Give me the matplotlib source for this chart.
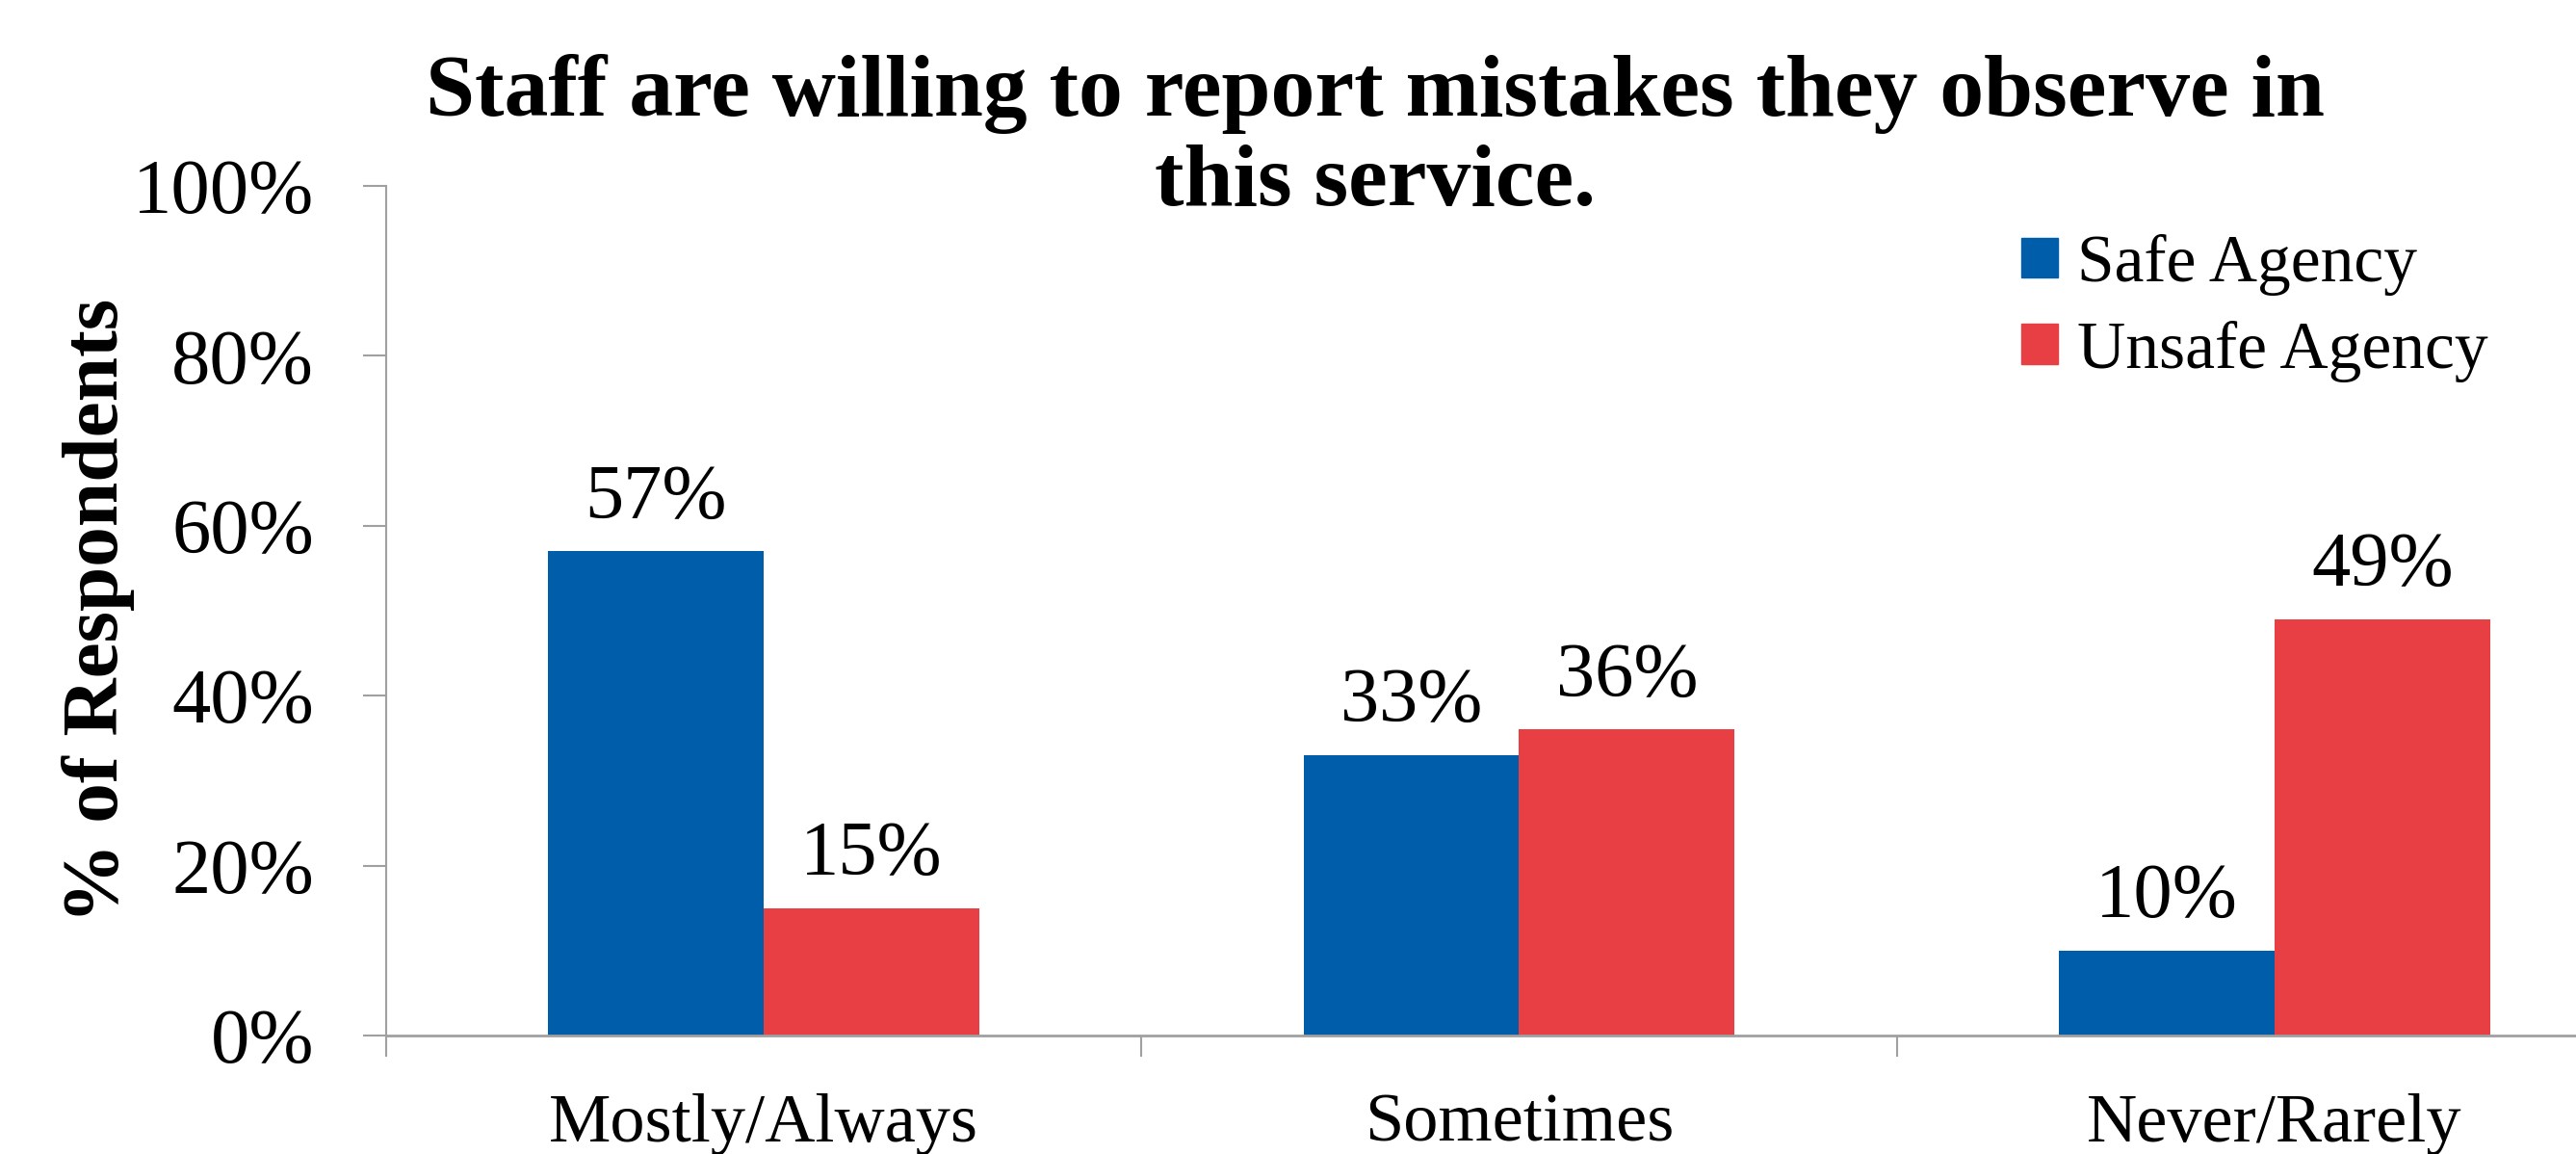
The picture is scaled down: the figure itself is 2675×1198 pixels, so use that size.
import numpy as np
import matplotlib.pyplot as plt
from matplotlib.patches import Patch

categories = ["Mostly/Always", "Sometimes", "Never/Rarely"]
safe = [57, 33, 10]
unsafe = [15, 36, 49]
series_names = ["Safe Agency", "Unsafe Agency"]
yticks = [0, 20, 40, 60, 80, 100]

BLUE = "#005DAA"
RED = "#E83F45"
GREY = "#A0A0A0"

plt.rcParams["font.family"] = ["Liberation Serif", "DejaVu Serif"]

fig = plt.figure(figsize=(26.75, 11.98), dpi=100)
ax = fig.add_axes([0.1499, 0.1027, 0.8796, 0.7362])

x = np.arange(len(categories))
w = 0.2855
bars_safe = ax.bar(x - w / 2, safe, w, color=BLUE, label=series_names[0])
bars_unsafe = ax.bar(x + w / 2, unsafe, w, color=RED, label=series_names[1])

# value labels above each bar
for bars, vals in [(bars_safe, safe), (bars_unsafe, unsafe)]:
    for b, v in zip(bars, vals):
        ax.annotate(f"{v}%", (b.get_x() + b.get_width() / 2, v),
                    xytext=(0, 25), textcoords="offset points",
                    ha="center", va="baseline", fontsize=58)

ax.set_xlim(-0.5, 2.5)
ax.set_ylim(0, 100)
ax.set_yticks(yticks)
ax.set_yticklabels([f"{t}%" for t in yticks], fontsize=58)
ax.set_xticks(x)
ax.set_xticklabels(categories, fontsize=52)
ax.set_xticks(np.arange(len(categories)) - 0.5, minor=True)
ax.tick_params(axis="x", which="major", length=0, pad=43)
ax.tick_params(axis="x", which="minor", length=16, width=1.5, color=GREY)
ax.tick_params(axis="y", length=17, width=1.5, color=GREY, pad=37)

for s in ["top", "right"]:
    ax.spines[s].set_visible(False)
ax.spines["left"].set_color(GREY)
ax.spines["left"].set_linewidth(1.5)
ax.spines["bottom"].set_color(GREY)
ax.spines["bottom"].set_linewidth(2)

ax.set_ylabel("% of Respondents", fontsize=60, fontweight="bold")
ax.yaxis.set_label_coords(-0.111, 0.5)

fig.text(0.534, 0.953, "Staff are willing to report mistakes they observe in\nthis service.",
         ha="center", va="top", fontsize=66, fontweight="bold", linespacing=1.17)

handles = [Patch(color=BLUE), Patch(color=RED)]
ax.legend(handles, series_names, loc="upper left", bbox_to_anchor=(2099 / 2675, 1 - 243 / 1198),
          bbox_transform=fig.transFigure, frameon=False, fontsize=50,
          handlelength=0.55, handleheight=0.55, handletextpad=0.28,
          labelspacing=0.37, borderpad=0, borderaxespad=0)

fig.savefig("out.png", dpi=100)
